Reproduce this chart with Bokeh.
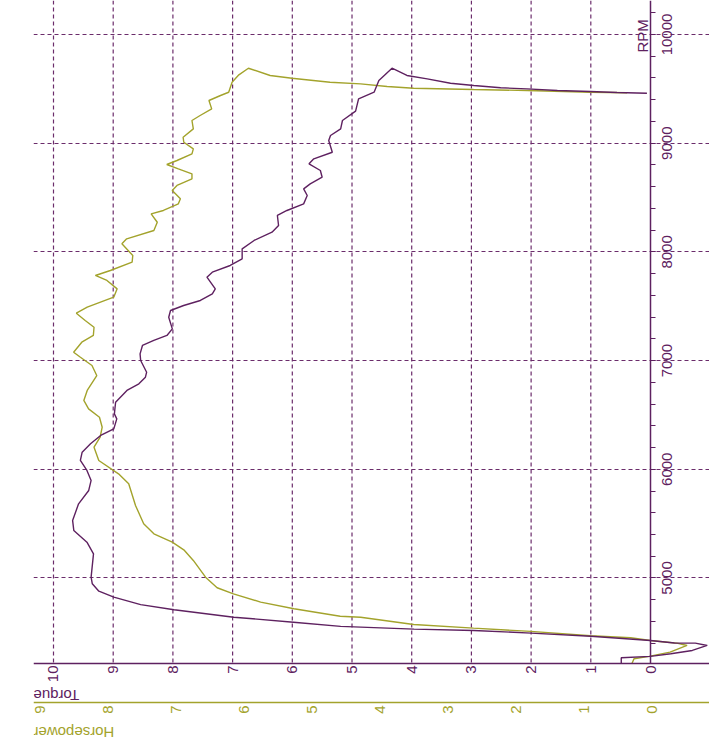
import math
from bokeh.plotting import figure
from bokeh.models import Range1d, LinearAxis, Label, FixedTicker
from bokeh.core.properties import value
from bokeh.embed import file_html
from bokeh.resources import INLINE

# ---- data ----
torque_rpm = [4213, 4266, 4278, 4302, 4333, 4379, 4400, 4402, 4425, 4464, 4492, 4517, 4529, 4554,
              4593, 4639, 4707, 4755, 4823, 4878, 4946, 5007, 5222, 5329, 5437, 5529, 5682, 5805,
              5897, 5989, 6081, 6157, 6234, 6311, 6372, 6464, 6510, 6617, 6725, 6786, 6847, 6893,
              7001, 7062, 7139, 7185, 7231, 7292, 7399, 7461, 7507, 7553, 7614, 7660, 7767, 7813,
              7875, 7936, 8028, 8105, 8181, 8243, 8335, 8381, 8442, 8519, 8580, 8626, 8687, 8749,
              8810, 8856, 8917, 9025, 9071, 9132, 9209, 9295, 9408, 9469, 9577, 9690, 9623, 9592,
              9552, 9531, 9510, 9500, 9485, 9476, 9466, 9460]
torque_val = [0.49, 0.49, 0.00, -0.34, -0.70, -0.95, -0.75, -0.40, 0.00, 1.00, 2.00, 2.96, 3.96, 5.19,
              5.98, 6.98, 7.98, 8.54, 8.99, 9.24, 9.35, 9.37, 9.33, 9.44, 9.66, 9.68, 9.58, 9.41,
              9.37, 9.44, 9.55, 9.52, 9.38, 9.21, 8.99, 8.94, 8.98, 8.96, 8.77, 8.57, 8.46, 8.44,
              8.54, 8.55, 8.51, 8.32, 8.10, 8.01, 8.07, 8.04, 7.82, 7.54, 7.34, 7.29, 7.43, 7.34,
              7.04, 6.84, 6.84, 6.64, 6.34, 6.23, 6.25, 6.09, 5.81, 5.75, 5.81, 5.70, 5.50, 5.53,
              5.72, 5.64, 5.33, 5.39, 5.36, 5.19, 5.16, 4.94, 4.89, 4.63, 4.55, 4.33, 4.08, 3.74,
              3.35, 2.96, 2.51, 2.07, 1.56, 1.01, 0.56, 0.06]

hp_rpm = [4213, 4257, 4278, 4317, 4379, 4400, 4409, 4425, 4450, 4468, 4508, 4538, 4572, 4639, 4648,
          4717, 4778, 4854, 4910, 5007, 5161, 5259, 5329, 5406, 5498, 5667, 5866, 5958, 6081,
          6203, 6295, 6387, 6479, 6556, 6633, 6725, 6862, 6955, 7031, 7077, 7169, 7231, 7307,
          7369, 7436, 7491, 7583, 7660, 7737, 7783, 7829, 7905, 7967, 8074, 8120, 8197, 8273,
          8350, 8381, 8442, 8488, 8565, 8611, 8672, 8718, 8764, 8804, 8841, 8902, 8948, 9009,
          9055, 9132, 9209, 9255, 9316, 9393, 9439, 9469, 9561, 9629, 9690, 9623, 9598, 9561,
          9546, 9522, 9506, 9494, 9485, 9469, 9464]
hp_val = [0.30, 0.27, 0.05, -0.26, -0.51, -0.36, -0.22, 0.03, 0.32, 0.91, 1.79, 2.63, 3.51, 4.29, 4.59,
          5.27, 5.76, 6.16, 6.40, 6.57, 6.75, 6.89, 7.06, 7.33, 7.48, 7.60, 7.70, 7.85, 8.14,
          8.21, 8.12, 8.09, 8.13, 8.29, 8.36, 8.31, 8.17, 8.24, 8.41, 8.51, 8.39, 8.22, 8.21,
          8.34, 8.47, 8.31, 7.92, 7.87, 8.02, 8.19, 7.97, 7.65, 7.64, 7.80, 7.73, 7.33, 7.28,
          7.37, 7.19, 6.97, 6.94, 7.06, 6.99, 6.77, 6.77, 6.97, 7.14, 6.99, 6.77, 6.75, 6.89,
          6.90, 6.75, 6.77, 6.65, 6.48, 6.52, 6.35, 6.23, 6.18, 6.08, 5.94, 5.62, 5.30, 4.74,
          4.29, 3.90, 3.51, 2.63, 1.84, 0.91, 0.37]

torque_ticks = [0, 1, 2, 3, 4, 5, 6, 7, 8, 9, 10]
torque_grid = [1, 2, 3, 4, 5, 6, 7, 8, 9, 10]
hp_ticks = [0, 1, 2, 3, 4, 5, 6, 7, 8, 9]
rpm_ticks = [5000, 6000, 7000, 8000, 9000, 10000]
rpm_labels = ["5000", "6000", "7000", "8000", "9000", "10000"]
rpm_minor = list(range(4400, 10400, 200))

RPM_LO, RPM_HI = 4213, 10313      # torque axis sits at RPM_LO
HP_AXIS_AT = 3854                  # horsepower axis line, under the torque axis

PURPLE = "#5e2160"
OLIVE = "#a3a32c"
GRID = "#6b2c6b"
FONT = "Liberation Sans"

p = figure(width=709, height=742, output_backend="svg", toolbar_location=None,
           x_range=Range1d(10.335, -0.988), y_range=Range1d(3486, RPM_HI),
           y_axis_location="right",
           min_border_left=33, min_border_right=0, min_border_top=0, min_border_bottom=0)
p.extra_x_ranges = {"hp": Range1d(9.10, -0.84)}
p.outline_line_color = None
p.background_fill_color = "white"
p.border_fill_color = "white"

# torque axis
tx = p.xaxis[0]
tx.fixed_location = RPM_LO
tx.ticker = FixedTicker(ticks=torque_ticks)
tx.axis_line_color = PURPLE
tx.axis_line_width = 1.5
tx.major_tick_out = 0
tx.major_tick_in = 0
tx.minor_tick_out = 0
tx.minor_tick_in = 0
tx.major_label_orientation = math.pi / 2
tx.major_label_standoff = 2
tx.major_label_text_font = FONT
tx.major_label_text_font_size = "15px"
tx.major_label_text_color = PURPLE
tx.axis_label = "Torque"
tx.axis_label_text_font = FONT
tx.axis_label_text_font_size = "15px"
tx.axis_label_text_font_style = "normal"
tx.axis_label_text_color = PURPLE
tx.axis_label_standoff = 10

# horsepower axis
hx = LinearAxis(x_range_name="hp", ticker=FixedTicker(ticks=hp_ticks), fixed_location=HP_AXIS_AT)
hx.axis_line_color = OLIVE
hx.axis_line_width = 1.5
hx.major_tick_out = 0
hx.major_tick_in = 0
hx.minor_tick_out = 0
hx.minor_tick_in = 0
hx.major_label_orientation = math.pi / 2
hx.major_label_standoff = 3
hx.major_label_text_font = FONT
hx.major_label_text_font_size = "15px"
hx.major_label_text_color = OLIVE
hx.axis_label = "Horsepower"
hx.axis_label_text_font = FONT
hx.axis_label_text_font_size = "15px"
hx.axis_label_text_font_style = "normal"
hx.axis_label_text_color = OLIVE
hx.axis_label_standoff = 16
p.add_layout(hx, "below")

for ax in (tx, hx):
    ax.axis_label_orientation = math.pi
    ax.axis_label_align = "end"

# rpm axis (vertical, at torque = 0)
ry = p.yaxis[0]
ry.ticker = FixedTicker(ticks=rpm_ticks, minor_ticks=rpm_minor)
ry.fixed_location = 0
ry.bounds = (RPM_LO, RPM_HI)
ry.axis_line_color = PURPLE
ry.axis_line_width = 1.5
ry.major_tick_in = 0
ry.major_tick_out = 5
ry.minor_tick_in = 0
ry.minor_tick_out = 5
ry.major_tick_line_color = PURPLE
ry.minor_tick_line_color = PURPLE
ry.major_label_overrides = {t: "" for t in rpm_ticks}

# grids: horizontal from the library grid, vertical ones stop at the torque axis
p.xgrid.visible = False
p.ygrid.ticker = FixedTicker(ticks=rpm_ticks)
p.ygrid.grid_line_color = GRID
p.ygrid.grid_line_dash = "4 3"
p.ygrid.grid_line_width = 1.2
p.segment(x0=torque_grid, y0=[RPM_HI] * len(torque_grid), x1=torque_grid,
          y1=[RPM_LO] * len(torque_grid), line_color=GRID, line_dash="4 3", line_width=1.2,
          level="underlay")

# curves
p.line(hp_val, hp_rpm, x_range_name="hp", line_color=OLIVE, line_width=1.4)
p.line(torque_val, torque_rpm, line_color=PURPLE, line_width=1.4)

# rpm tick labels, read bottom-to-top, centred on their ticks
p.text(x=[-0.27] * len(rpm_ticks), y=rpm_ticks, text=rpm_labels, angle=math.pi / 2,
       text_align="center", text_baseline="middle", text_color=PURPLE,
       text_font=value(FONT), text_font_size="15px")

# RPM title
p.add_layout(Label(x=0.14, y=9834, text="RPM", angle=math.pi / 2, text_align="left",
                   text_baseline="alphabetic", text_color=PURPLE, text_font=FONT,
                   text_font_size="15px"))

open("out.html", "w").write(file_html(p, INLINE))
